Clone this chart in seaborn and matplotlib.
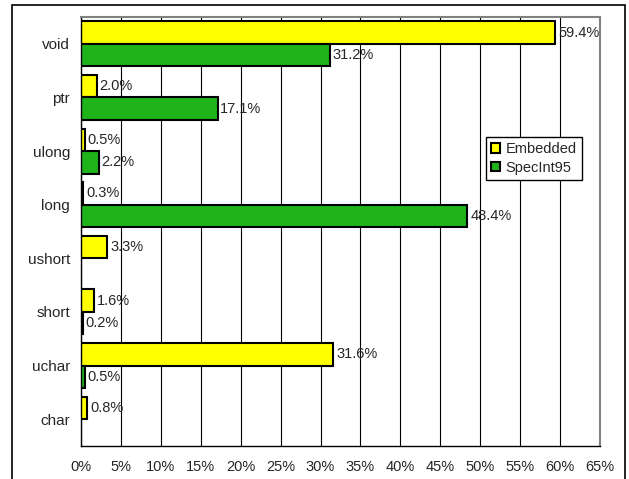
import numpy as np
import pandas as pd
import matplotlib
matplotlib.use("Agg")
import matplotlib.pyplot as plt
from matplotlib.patches import Rectangle
from matplotlib.ticker import MultipleLocator, FuncFormatter
import seaborn as sns

categories = ["void", "ptr", "ulong", "long", "ushort", "short", "uchar", "char"]
embedded = [59.4, 2.0, 0.5, 0.3, 3.3, 1.6, 31.6, 0.8]
specint95 = [31.2, 17.1, 2.2, 48.4, np.nan, 0.2, 0.5, np.nan]
series_names = ["Embedded", "SpecInt95"]
colors = ["#FFFF00", "#1FB41A"]

df = pd.concat([
    pd.DataFrame({"type": categories, "value": embedded, "series": series_names[0]}),
    pd.DataFrame({"type": categories, "value": specint95, "series": series_names[1]}),
], ignore_index=True)

sns.set_style("white")
plt.rcParams["font.family"] = ["Liberation Sans", "DejaVu Sans"]

fig = plt.figure(figsize=(6.29, 4.79), dpi=100)
ax = fig.add_axes([81/629, 1-446/479, (600-81)/629, (446-17)/479])

sns.barplot(data=df, y="type", x="value", hue="series", order=categories,
            hue_order=series_names, palette=colors, orient="h", width=0.84,
            edgecolor="black", linewidth=1.5, saturation=1, ax=ax, legend=True)

ax.set_xlim(0, 65)
ax.set_ylim(len(categories) - 0.5, -0.5)
ax.xaxis.set_major_locator(MultipleLocator(5))
ax.xaxis.set_major_formatter(FuncFormatter(lambda v, p: f"{int(round(v))}%"))
ax.grid(axis="x", color="black", linewidth=0.8)
ax.set_axisbelow(True)
ax.set_xlabel("")
ax.set_ylabel("")

for sp in ["left", "bottom"]:
    ax.spines[sp].set_color("black")
    ax.spines[sp].set_linewidth(1.0)
for sp in ["top", "right"]:
    ax.spines[sp].set_color("#808080")
    ax.spines[sp].set_linewidth(1.5)

ax.set_yticks(np.arange(-0.5, len(categories), 1.0), minor=True)
ax.tick_params(axis="y", which="major", length=0, labelsize=11, pad=8)
ax.tick_params(axis="y", which="minor", length=5, width=1, color="black", direction="out")
ax.tick_params(axis="x", which="major", length=4, width=1, color="black",
               direction="out", labelsize=10.5, pad=6)

for cont in ax.containers:
    labels = []
    for b in cont:
        w = b.get_width()
        labels.append("" if (w is None or np.isnan(w)) else f"{w:.1f}%")
    ax.bar_label(cont, labels=labels, padding=2, fontsize=10.5)

leg = ax.legend(loc="upper left", bbox_to_anchor=(0.78, 0.72), frameon=True,
                fancybox=False, framealpha=1, edgecolor="black", fontsize=10.5,
                handlelength=0.6, handleheight=0.6, handletextpad=0.4,
                borderpad=0.35, labelspacing=0.3, borderaxespad=0)
leg.get_frame().set_linewidth(1.0)
for h in leg.legend_handles:
    h.set_edgecolor("black")
    h.set_linewidth(1.5)

fig.patches.append(Rectangle((12/629, -0.02), (625-12)/629, 1.02 - 5/479,
                             transform=fig.transFigure, fill=False,
                             edgecolor="black", linewidth=1.2, clip_on=False))

fig.savefig("out.png", dpi=100)
